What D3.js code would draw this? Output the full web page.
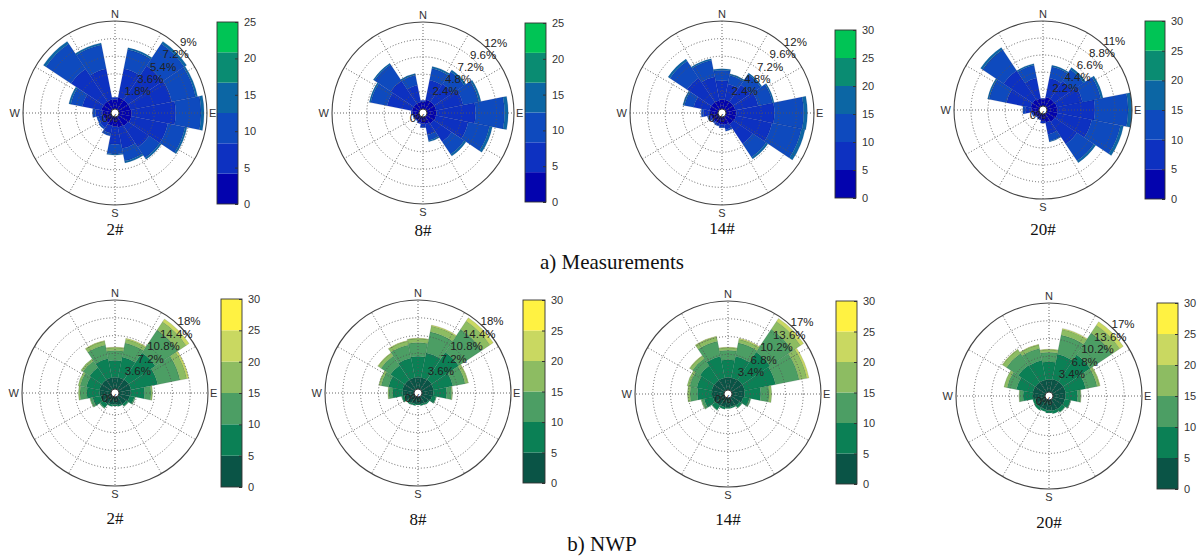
<!DOCTYPE html>
<html><head><meta charset="utf-8">
<script src="https://cdn.jsdelivr.net/npm/d3@7"></script>
<style>body{margin:0;background:#fff}svg{display:block}</style>
</head><body><svg id="chart" width="1198" height="556"></svg>
<script>
// ---------- DATA ----------
const directions = ["N","NNE","NE","ENE","E","ESE","SE","SSE","S","SSW","SW","WSW","W","WNW","NW","NNW"];
const stations = ["2#","8#","14#","20#"];
const colorbarTicksMeas = [[0,5,10,15,20,25],[0,5,10,15,20,25],[0,5,10,15,20,25,30],[0,5,10,15,20,25,30]];
const colorbarTicksNwp = [[0,5,10,15,20,25,30],[0,5,10,15,20,25,30],[0,5,10,15,20,25,30],[0,5,10,15,20,25,30]];
const ringMaxMeas = [9, 12, 12, 11];
const ringMaxNwp = [18, 18, 17, 17];

// frequency (%) per direction, split by speed bin (inner -> outer)
const meas2 = [[1.0,0.2,0,0],[1.2,3.0,2.0,0.2],[1.2,4.2,2.7,0.3],[1.2,4.3,2.5,0.2],[1.3,4.5,2.6,0.3],[1.3,3.8,1.8,0.2],[1.2,2.6,1.3,0.2],[1.1,2.2,1.3,0.2],[1.0,1.8,1.0,0.1],[0.9,0.8,0.3,0],[0.8,0.6,0.2,0],[0.8,0.5,0.2,0],[0.9,0.7,0.3,0],[1.0,2.0,1.2,0.2],[1.0,4.0,3.1,0.3],[1.0,3.2,2.5,0.2]];
const meas8 = [[1.0,0.2,0,0],[1.3,2.8,1.6,0.3],[1.3,3.0,2.0,0.3],[1.3,3.8,2.2,0.3],[1.3,5.4,4.0,0.5],[1.3,4.5,3.0,0.4],[1.2,3.0,2.1,0.3],[1.0,1.5,0.8,0.2],[0.9,0.5,0.1,0],[0.8,0.2,0,0],[0.7,0.1,0,0],[0.8,0.1,0,0],[0.9,0.2,0,0],[1.0,3.5,2.3,0.2],[1.0,3.8,2.7,0.2],[1.0,2.4,1.4,0.2]];
const meas14 = [[1.3,2.6,1.4,0.2],[1.3,2.2,1.2,0.2],[1.3,2.8,1.7,0.2],[1.3,3.2,2.0,0.2],[1.4,5.2,4.0,0.5],[1.4,5.0,4.1,0.5],[1.3,3.2,2.2,0.3],[1.1,0.7,0.2,0],[1.0,0.4,0.1,0],[0.9,0.3,0.1,0],[0.9,0.2,0.1,0],[1.0,0.4,0.1,0],[1.1,0.9,0.3,0],[1.2,2.2,1.3,0.2],[1.2,4.0,2.8,0.3],[1.2,3.3,2.3,0.2]];
const meas20 = [[0.9,0.1,0,0],[1.2,2.5,1.5,0.2],[1.2,2.8,1.8,0.3],[1.3,3.4,2.4,0.3],[1.4,4.8,4.3,0.5],[1.4,4.5,3.8,0.4],[1.3,3.5,2.6,0.3],[1.1,1.6,0.9,0.1],[0.9,0.3,0,0],[0.7,0.1,0,0],[0.6,0.1,0,0],[0.8,0.2,0,0],[1.0,0.8,0.3,0],[1.1,3.2,2.3,0.2],[1.1,4.5,3.3,0.3],[1.0,2.7,1.7,0.2]];

const nwp2 = [[2.4,3.4,2.0,0.6,0.1],[2.4,4.2,2.9,0.8,0.2],[2.5,6.5,5.5,2.0,0.7],[2.5,5.5,4.6,1.4,0.4],[2.4,2.8,1.3,0.3,0],[2.2,1.0,0.2,0,0],[1.9,0.5,0.1,0,0],[1.7,0.3,0,0,0],[1.5,0.3,0,0,0],[1.6,0.4,0,0,0],[1.9,0.9,0.2,0,0],[2.2,1.6,0.5,0.1,0],[2.3,2.6,1.4,0.3,0],[2.4,2.7,1.3,0.4,0],[2.4,3.0,1.6,0.5,0],[2.4,3.9,2.8,0.8,0.1]];
const nwp8 = [[2.4,4.2,2.8,0.8,0.1],[2.4,5.1,4.3,1.2,0.2],[2.5,6.6,5.6,2.0,0.8],[2.4,4.0,2.5,0.6,0.1],[2.3,2.7,1.0,0.2,0],[2.1,0.8,0.1,0,0],[1.7,0.3,0,0,0],[1.5,0.3,0,0,0],[1.4,0.2,0,0,0],[1.5,0.3,0,0,0],[1.7,0.3,0,0,0],[2.0,0.5,0.1,0,0],[2.3,2.0,0.8,0.2,0],[2.4,2.9,1.5,0.5,0],[2.4,3.5,2.3,0.7,0.1],[2.4,4.0,2.7,0.8,0.1]];
const nwp14 = [[2.4,3.4,1.8,0.5,0.1],[2.4,4.2,2.6,0.7,0.2],[2.5,6.4,5.2,1.8,0.7],[2.5,6.0,4.6,1.5,0.4],[2.4,3.1,1.6,0.5,0],[2.2,1.2,0.3,0,0],[1.9,0.5,0.1,0,0],[1.7,0.3,0,0,0],[1.7,0.3,0,0,0],[1.8,0.4,0,0,0],[2.0,0.9,0.1,0,0],[2.2,1.7,0.5,0.1,0],[2.3,2.8,1.4,0.5,0],[2.4,2.9,1.4,0.5,0],[2.4,3.3,1.7,0.6,0.1],[2.4,4.2,2.9,0.9,0.1]];
const nwp20 = [[2.4,3.4,1.8,0.5,0.1],[2.5,4.9,3.7,1.1,0.2],[2.5,6.2,5.0,1.8,0.8],[2.5,3.9,2.2,0.5,0.1],[2.4,2.3,0.6,0.1,0],[2.3,1.1,0.1,0,0],[2.2,0.7,0.1,0,0],[2.1,0.6,0,0,0],[2.0,0.5,0,0,0],[1.9,0.4,0,0,0],[2.0,0.5,0,0,0],[1.9,0.5,0,0,0],[2.3,1.9,0.7,0.1,0],[2.4,3.2,1.8,0.6,0],[2.4,3.9,2.7,0.9,0.1],[2.4,3.8,2.3,0.7,0.1]];

const measColors = ["#0303ae","#0d31c1","#0e4abe","#0c66a4","#0a8c72","#00c455"];
const nwpColors = ["#0a5446","#0b8055","#4c9e64","#8dbc62","#c9d861","#fff242"];

// ---------- LAYOUT ----------
const svg = d3.select("#chart");
const sans = "'Liberation Sans', Arial, sans-serif";
const serif = "'Liberation Serif', 'Times New Roman', serif";

const panels = [
  {data: meas2, max: ringMaxMeas[0], cx:115, cy:113, R:92, cb:[217,22,21,182], ticks: colorbarTicksMeas[0], colors: measColors, label: stations[0], ly:235},
  {data: meas8, max: ringMaxMeas[1], cx:423, cy:113, R:91, cb:[525,23,21,179], ticks: colorbarTicksMeas[1], colors: measColors, label: stations[1], ly:236},
  {data: meas14, max: ringMaxMeas[2], cx:722, cy:113, R:92, cb:[835,30,21,168], ticks: colorbarTicksMeas[2], colors: measColors, label: stations[2], ly:234},
  {data: meas20, max: ringMaxMeas[3], cx:1043, cy:110, R:89, cb:[1145,21,20,178], ticks: colorbarTicksMeas[3], colors: measColors, label: stations[3], ly:235},
  {data: nwp2, max: ringMaxNwp[0], cx:115, cy:393, R:93, cb:[221,299,21,188], ticks: colorbarTicksNwp[0], colors: nwpColors, label: stations[0], ly:524},
  {data: nwp8, max: ringMaxNwp[1], cx:418, cy:393, R:93, cb:[523,300,22,183], ticks: colorbarTicksNwp[1], colors: nwpColors, label: stations[1], ly:525},
  {data: nwp14, max: ringMaxNwp[2], cx:728, cy:394, R:93, cb:[836,301,21,183], ticks: colorbarTicksNwp[2], colors: nwpColors, label: stations[2], ly:525},
  {data: nwp20, max: ringMaxNwp[3], cx:1049, cy:396, R:93, cb:[1157,303,21,186], ticks: colorbarTicksNwp[3], colors: nwpColors, label: stations[3], ly:528}
];

const fmt = v => (+v.toFixed(1)) + "%";
const sector = 2*Math.PI/directions.length;

panels.forEach(p => {
  const g = svg.append("g").attr("transform", `translate(${p.cx},${p.cy})`);
  const r0 = 4;
  const r = d3.scaleLinear().domain([0, p.max]).range([r0, p.R]);
  const nb = p.data[0].length;
  const keys = d3.range(nb);
  const rows = p.data.map((bins, i) => { const o = {dir: i}; keys.forEach(k => o[k] = bins[k]); return o; });
  const series = d3.stack().keys(keys)(rows);
  const arc = d3.arc();

  // bars
  series.forEach((s, k) => {
    g.append("g").selectAll("path").data(s.filter(d => d[1] > d[0])).join("path")
      .attr("d", d => arc({
        innerRadius: r(d[0]), outerRadius: r(d[1]),
        startAngle: d.data.dir*sector - sector/2, endAngle: d.data.dir*sector + sector/2
      }))
      .attr("fill", p.colors[k])
      .attr("stroke", p.colors === measColors ? "#0a1560" : "#1d3d2a")
      .attr("stroke-width", 0.4)
      .attr("stroke-opacity", 0.35);
  });

  // grid rings
  const ringVals = d3.range(1, 6).map(k => p.max*k/5);
  g.append("g").selectAll("circle").data(ringVals.slice(0, 4)).join("circle")
    .attr("r", d => r(d)).attr("fill", "none")
    .attr("stroke", "#555").attr("stroke-width", 0.9).attr("stroke-dasharray", "1,2");
  // spokes every 30 degrees
  g.append("g").selectAll("line").data(d3.range(0, 360, 30)).join("line")
    .attr("x1", d => r0*Math.sin(d*Math.PI/180)).attr("y1", d => -r0*Math.cos(d*Math.PI/180))
    .attr("x2", d => p.R*Math.sin(d*Math.PI/180)).attr("y2", d => -p.R*Math.cos(d*Math.PI/180))
    .attr("stroke", "#555").attr("stroke-width", 0.9).attr("stroke-dasharray", "1,2");
  // outer circle
  g.append("circle").attr("r", p.R).attr("fill", "none").attr("stroke", "#444").attr("stroke-width", 1.1);
  // center hole
  g.append("circle").attr("r", r0).attr("fill", "#fff").attr("stroke", "#111").attr("stroke-width", 0.8);

  // ring labels
  const la = 44*Math.PI/180;
  g.append("g").selectAll("text").data(ringVals).join("text")
    .attr("x", d => (r(d)+10)*Math.cos(la)).attr("y", d => -(r(d)+10)*Math.sin(la) + 4)
    .attr("text-anchor", "middle").attr("font-family", sans).attr("font-size", 11.5).attr("fill", "#222")
    .text(d => fmt(d));
  g.append("text").attr("x", -5).attr("y", 9).attr("text-anchor", "middle")
    .attr("font-family", sans).attr("font-size", 11.5).attr("fill", "#222").text("0%");

  // compass labels
  const addT = (x, y, anchor, t) => g.append("text").attr("x", x).attr("y", y).attr("text-anchor", anchor)
    .attr("font-family", sans).attr("font-size", 11).attr("fill", "#333").text(t);
  addT(0, -p.R - 3, "middle", "N");
  addT(0, p.R + 12, "middle", "S");
  addT(p.R + 2, 4, "start", "E");
  addT(-p.R - 3, 4, "end", "W");

  // station label
  svg.append("text").attr("x", p.cx).attr("y", p.ly).attr("text-anchor", "middle")
    .attr("font-family", serif).attr("font-size", 17).attr("fill", "#111").text(p.label);

  // colorbar
  const [bx, by, bw, bh] = p.cb;
  const cmax = p.ticks[p.ticks.length - 1];
  const cy = d3.scaleLinear().domain([0, cmax]).range([by + bh, by]);
  const seg = d3.scaleBand().domain(d3.range(6)).range([by + bh, by]);
  svg.append("g").selectAll("rect").data(d3.range(6)).join("rect")
    .attr("x", bx).attr("y", d => seg(d)).attr("width", bw).attr("height", seg.bandwidth())
    .attr("fill", d => p.colors[d]);
  const cbG = svg.append("g").attr("transform", `translate(${bx + bw},0)`);
  cbG.call(d3.axisRight(cy).tickValues(p.ticks).tickSizeInner(-3).tickSizeOuter(0).tickPadding(6).tickFormat(d3.format("d")));
  cbG.select(".domain").remove();
  cbG.selectAll(".tick line").attr("stroke", "#333");
  cbG.selectAll(".tick text").attr("font-family", sans).attr("font-size", 11).attr("fill", "#333");
  svg.append("rect").attr("x", bx).attr("y", by).attr("width", bw).attr("height", bh)
    .attr("fill", "none").attr("stroke", "#333").attr("stroke-width", 0.9);
});

// captions
svg.append("text").attr("x", 612).attr("y", 269).attr("text-anchor", "middle")
  .attr("font-family", serif).attr("font-size", 21).attr("fill", "#111").text("a) Measurements");
svg.append("text").attr("x", 602).attr("y", 551).attr("text-anchor", "middle")
  .attr("font-family", serif).attr("font-size", 21).attr("fill", "#111").text("b) NWP");
</script></body></html>
